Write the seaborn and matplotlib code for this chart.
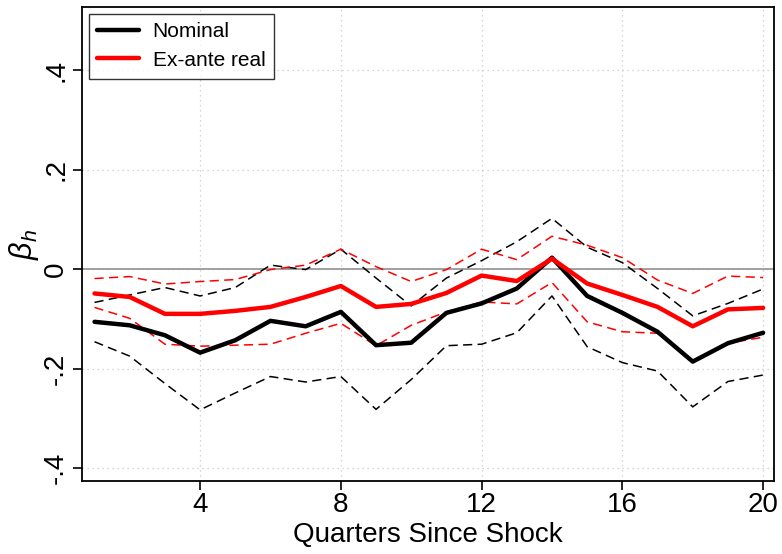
import numpy as np
import pandas as pd
import matplotlib
matplotlib.use("Agg")
import matplotlib.pyplot as plt
import seaborn as sns

# local projection estimates
quarters = list(range(1, 21))
nominal = [-0.106, -0.113, -0.133, -0.168, -0.143, -0.104, -0.115, -0.086, -0.153, -0.148,
           -0.088, -0.069, -0.039, 0.023, -0.054, -0.088, -0.126, -0.186, -0.149, -0.128]
nominal_hi = [-0.067, -0.052, -0.037, -0.054, -0.037, 0.008, -0.001, 0.040, -0.018, -0.074,
              -0.018, 0.017, 0.055, 0.102, 0.044, 0.013, -0.039, -0.094, -0.069, -0.040]
nominal_lo = [-0.146, -0.175, -0.230, -0.283, -0.249, -0.216, -0.227, -0.216, -0.282, -0.222,
              -0.154, -0.151, -0.128, -0.054, -0.156, -0.188, -0.205, -0.277, -0.226, -0.213]
real = [-0.049, -0.056, -0.090, -0.090, -0.084, -0.076, -0.056, -0.034, -0.076, -0.070,
        -0.048, -0.013, -0.024, 0.021, -0.029, -0.052, -0.076, -0.115, -0.081, -0.078]
real_hi = [-0.019, -0.015, -0.030, -0.025, -0.021, -0.001, 0.008, 0.040, 0.005, -0.025,
           -0.001, 0.040, 0.019, 0.066, 0.048, 0.023, -0.022, -0.049, -0.014, -0.017]
real_lo = [-0.077, -0.099, -0.151, -0.155, -0.153, -0.151, -0.129, -0.109, -0.154, -0.113,
           -0.086, -0.066, -0.070, -0.027, -0.106, -0.126, -0.129, -0.186, -0.149, -0.137]

yticks = [-0.4, -0.2, 0, 0.2, 0.4]
ytick_labels = ["-.4", "-.2", "0", ".2", ".4"]
xticks = [4, 8, 12, 16, 20]

df = pd.DataFrame({"h": quarters, "nominal": nominal, "nominal_lo": nominal_lo,
                   "nominal_hi": nominal_hi, "real": real, "real_lo": real_lo,
                   "real_hi": real_hi})

sns.set_style("ticks")
plt.rcParams['font.family'] = ['Liberation Sans', 'DejaVu Sans']
plt.rcParams['mathtext.fontset'] = 'custom'
plt.rcParams['mathtext.it'] = 'Liberation Sans:italic'
plt.rcParams['mathtext.rm'] = 'Liberation Sans'
plt.rcParams['text.color'] = 'black'
plt.rcParams['axes.labelcolor'] = 'black'
plt.rcParams['xtick.color'] = 'black'
plt.rcParams['ytick.color'] = 'black'

fig = plt.figure(figsize=(7.82, 5.54), dpi=100)
ax = fig.add_axes([0.1049, 0.1318, 0.8849, 0.8556])

# grid and zero line
for t in xticks:
    ax.axvline(t, color='#c8c8c8', lw=0.9, ls=(0, (1, 3)), zorder=0)
for t in yticks:
    ax.axhline(t, color='#c8c8c8', lw=0.9, ls=(0, (1, 3)), zorder=0)
ax.axhline(0, color='#999999', lw=1.3, zorder=1)

dash = (0, (6, 3.5))
sns.lineplot(data=df, x="h", y="nominal_hi", color="black", lw=1.1, linestyle=dash, ax=ax)
sns.lineplot(data=df, x="h", y="nominal_lo", color="black", lw=1.1, linestyle=dash, ax=ax)
sns.lineplot(data=df, x="h", y="real_hi", color="red", lw=1.1, linestyle=dash, ax=ax)
sns.lineplot(data=df, x="h", y="real_lo", color="red", lw=1.1, linestyle=dash, ax=ax)
sns.lineplot(data=df, x="h", y="nominal", color="black", lw=3.2, label="Nominal", ax=ax)
sns.lineplot(data=df, x="h", y="real", color="red", lw=3.2, label="Ex-ante real", ax=ax)

ax.set_xlim(0.645, 20.31)
ax.set_ylim(-0.426, 0.527)
ax.set_xticks(xticks)
ax.set_xticklabels([str(t) for t in xticks], fontsize=20)
ax.set_yticks(yticks)
ax.set_yticklabels(ytick_labels, fontsize=20, rotation=90, va='center')
ax.tick_params(direction='out', length=6.3, width=1.2, color='black')
ax.tick_params(axis='x', pad=1.5)
ax.tick_params(axis='y', pad=3)

for s in ax.spines.values():
    s.set_color('black')
    s.set_linewidth(1.3)

ax.set_xlabel("Quarters Since Shock", fontsize=20)
ax.xaxis.set_label_coords(0.5, -0.087)
ax.set_ylabel(r"$\beta_h$", fontsize=22)
ax.yaxis.set_label_coords(-0.06, 0.5)

leg = ax.legend(loc='upper left', fontsize=15, frameon=True, fancybox=False,
                handlelength=2.0, handletextpad=0.65, borderaxespad=0.32,
                borderpad=0.42, labelspacing=0.45)
leg.get_frame().set_edgecolor('black')
leg.get_frame().set_linewidth(1.0)

fig.savefig("out.png", dpi=100)
